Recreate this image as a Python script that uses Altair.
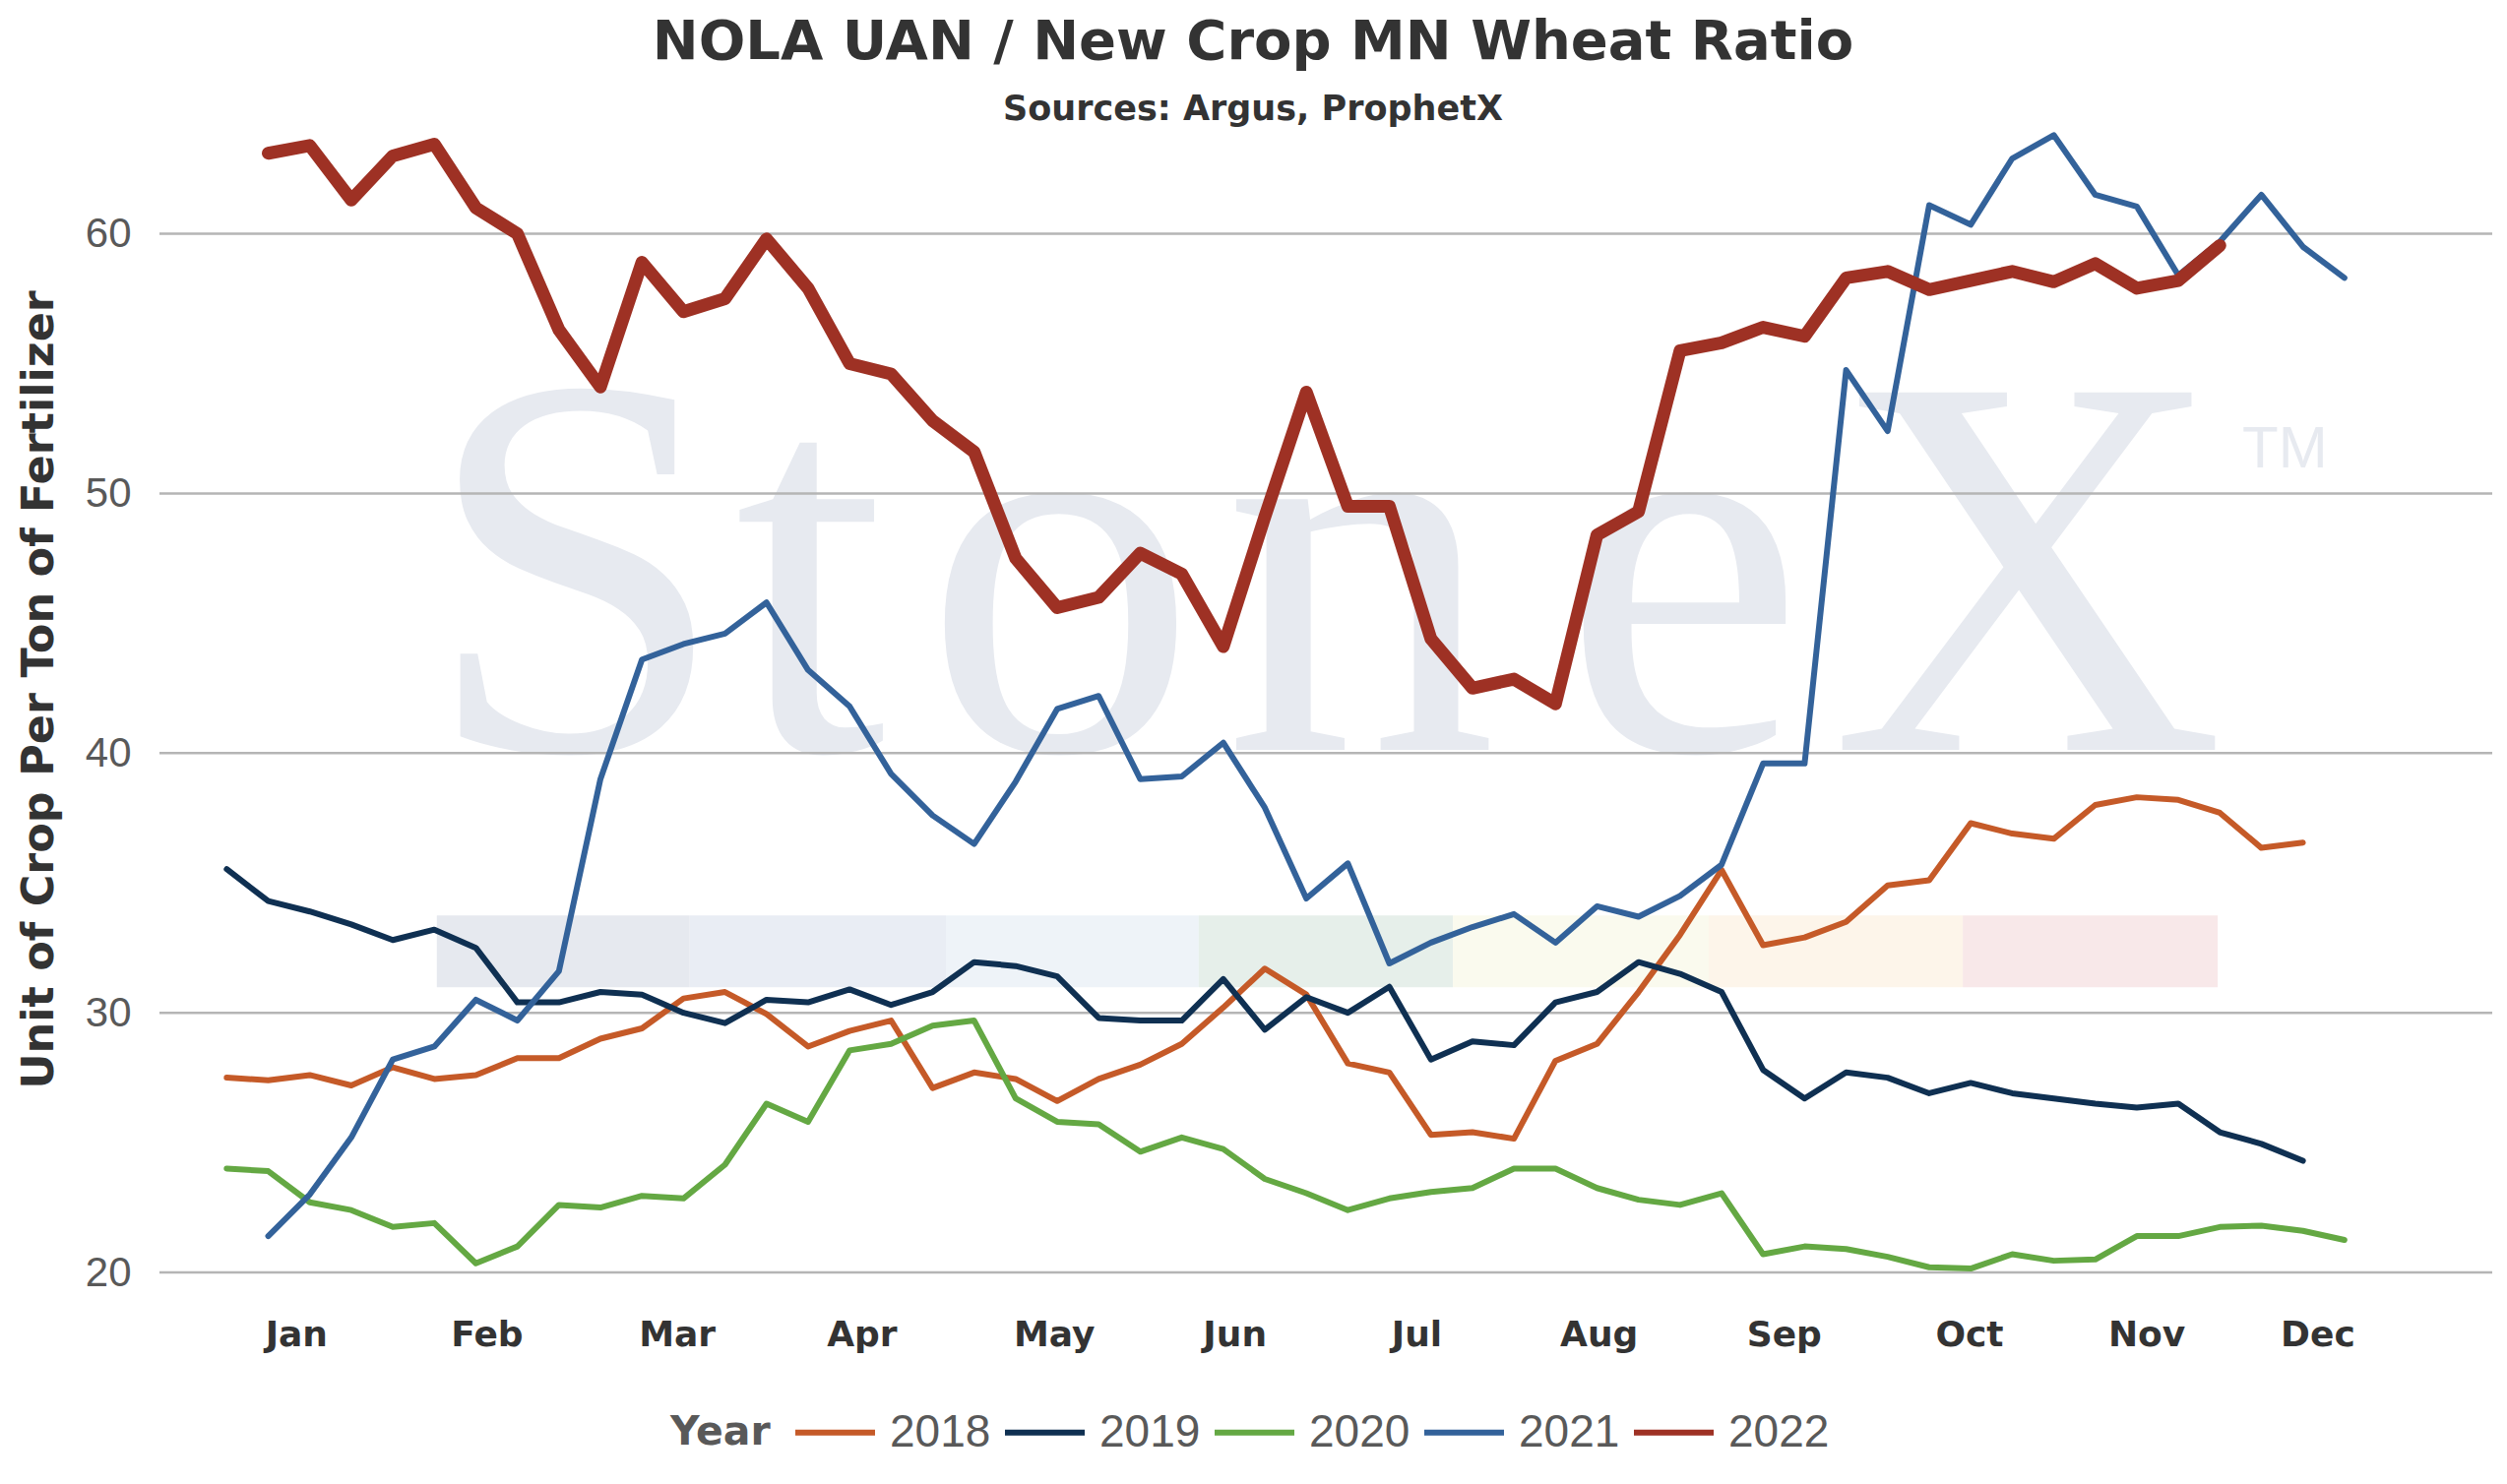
import altair as alt
import pandas as pd

# ---------------- data ----------------
years = ["2018", "2019", "2020", "2021", "2022"]
year_colors = ["#c55a28", "#0f3052", "#64a843", "#33629a", "#9e3124"]
first_week = {"2018": 1, "2019": 1, "2020": 1, "2021": 2, "2022": 2}

y2018 = [27.5, 27.4, 27.6, 27.2, 27.9, 27.45, 27.6, 28.25, 28.25, 29.0,
         29.4, 30.55, 30.8, 29.95, 28.7, 29.3, 29.7, 27.1, 27.7, 27.45,
         26.6, 27.45, 28.0, 28.8, 30.2, 31.7, 30.7, 28.05, 27.7, 25.3,
         25.4, 25.15, 28.15, 28.8, 30.8, 33.0, 35.5, 32.6, 32.9, 33.5,
         34.9, 35.1, 37.3, 36.9, 36.7, 38.0, 38.3, 38.2, 37.7, 36.35, 36.55]
y2019 = [35.53, 34.3, 33.9, 33.4, 32.8, 33.2, 32.5, 30.4, 30.4, 30.8,
         30.7, 30.0, 29.6, 30.5, 30.4, 30.9, 30.3, 30.8, 31.95, 31.8,
         31.4, 29.8, 29.7, 29.7, 31.3, 29.35, 30.6, 30.0, 31.0, 28.2,
         28.9, 28.75, 30.4, 30.8, 31.95, 31.5, 30.8, 27.8, 26.7, 27.7,
         27.5, 26.9, 27.3, 26.9, 26.7, 26.5, 26.35, 26.5, 25.4, 24.95, 24.3]
y2020 = [24.0, 23.9, 22.7, 22.4, 21.75, 21.9, 20.35, 21.0, 22.6, 22.5,
         22.95, 22.85, 24.15, 26.5, 25.8, 28.55, 28.8, 29.5, 29.7, 26.7,
         25.8, 25.7, 24.65, 25.2, 24.75, 23.6, 23.05, 22.4, 22.85, 23.1,
         23.25, 24.0, 24.0, 23.25, 22.8, 22.6, 23.05, 20.7, 21.0, 20.9,
         20.6, 20.2, 20.15, 20.7, 20.45, 20.5, 21.4, 21.4, 21.75, 21.8,
         21.6, 21.25]
y2021 = [21.4, 23.0, 25.2, 28.2, 28.7, 30.5, 29.7, 31.6, 39.0, 43.6,
         44.2, 44.6, 45.8, 43.2, 41.8, 39.2, 37.6, 36.5, 38.9, 41.7,
         42.2, 39.0, 39.1, 40.4, 37.9, 34.4, 35.75, 31.9, 32.7, 33.3,
         33.8, 32.7, 34.1, 33.7, 34.5, 35.7, 39.6, 39.6, 54.75, 52.4,
         61.1, 60.35, 62.9, 63.8, 61.5, 61.05, 58.4, 59.7, 61.5, 59.5, 58.3]
y2022 = [63.1, 63.4, 61.3, 63.0, 63.45, 61.0, 60.0, 56.3, 54.1, 58.9,
         57.0, 57.5, 59.8, 57.9, 55.0, 54.6, 52.8, 51.6, 47.5, 45.6,
         46.0, 47.7, 46.9, 44.1, 49.1, 53.9, 49.5, 49.5, 44.4, 42.5,
         42.85, 41.9, 48.4, 49.3, 55.5, 55.8, 56.4, 56.05, 58.3, 58.55,
         57.85, 58.2, 58.55, 58.15, 58.85, 57.9, 58.2, 59.55]

month_names = ["Jan", "Feb", "Mar", "Apr", "May", "Jun",
               "Jul", "Aug", "Sep", "Oct", "Nov", "Dec"]
month_pos = [2.67, 7.26, 11.84, 16.29, 20.92, 25.27,
             29.65, 34.04, 38.50, 42.96, 47.23, 51.35]
y_ticks = [20, 30, 40, 50, 60]

# watermark (StoneX logo) pieces
wm_letters = ["S", "t", "o", "n", "e", "X"]
wm_week = [9.39, 15.05, 21.08, 28.30, 36.08, 44.37]
wm_value = [40.12] * 6
tm_text = ["TM"]
tm_week = [49.54]
tm_value = [51.0]
band_start = [6.06, 12.15, 18.32, 24.41, 30.53, 36.69, 42.81]
band_end = [12.15, 18.32, 24.41, 30.53, 36.69, 42.81, 48.95]
band_low = [30.98] * 7
band_high = [33.75] * 7
band_colors = ["#e6e9ef", "#e9edf4", "#eef3f8", "#e6efea",
               "#fafaee", "#fdf5ea", "#f8e8e9"]

# ---------------- tables ----------------
series = {"2018": y2018, "2019": y2019, "2020": y2020, "2021": y2021, "2022": y2022}
rows = []
for yr, vals in series.items():
    for i, v in enumerate(vals):
        rows.append({"Year": yr, "week": first_week[yr] + i, "ratio": v})
df = pd.DataFrame(rows)

bands = pd.DataFrame({"week": band_start, "week2": band_end,
                      "ratio": band_low, "ratio2": band_high,
                      "fillc": band_colors})
wm = pd.DataFrame({"week": wm_week, "ratio": wm_value, "txt": wm_letters})
tm = pd.DataFrame({"week": tm_week, "ratio": tm_value, "txt": tm_text})
grid = pd.DataFrame({"ratio": y_ticks})

# month label expression
expr = "'%s'" % month_names[-1]
for i in range(len(month_names) - 2, -1, -1):
    mid = (month_pos[i] + month_pos[i + 1]) / 2
    expr = "datum.value < %.3f ? '%s' : (%s)" % (mid, month_names[i], expr)

x_scale = alt.Scale(domain=[-0.62, 55.56], nice=False, zero=False)
y_scale = alt.Scale(domain=[20, 64], nice=False, zero=False)

x_axis = alt.Axis(values=month_pos, labelExpr=expr, title=None, grid=False,
                  domain=False, ticks=False, tickSize=0, labelFlush=False,
                  labelOverlap=False, labelFont="DejaVu Sans", labelFontSize=36,
                  labelFontWeight="bold", labelColor="#333333",
                  labelBaseline="alphabetic", labelPadding=74)
y_title = "Unit of Crop Per Ton of Fertilizer"
y_axis = alt.Axis(values=y_ticks, grid=False, domain=False, ticks=False, tickSize=0,
                  labelFlush=False, labelFont="Liberation Sans", labelFontSize=42,
                  labelColor="#595959", labelPadding=29,
                  title=y_title, titleFont="DejaVu Sans", titleFontSize=44.5,
                  titleFontWeight="bold", titleColor="#333333",
                  titleX=-108.7, titleY=568.4, titleBaseline="alphabetic")

X = alt.X("week:Q", scale=x_scale, axis=x_axis)
Y = alt.Y("ratio:Q", scale=y_scale, axis=y_axis)

legend = alt.Legend(orient="none", legendX=519, legendY=1280, direction="horizontal",
                    title="Year", titleOrient="left", titleFont="DejaVu Sans",
                    titleFontSize=41, titleFontWeight="bold", titleColor="#595959",
                    titlePadding=22, titleAnchor="middle", titleBaseline="line-top",
                    titleLineHeight=23,
                    labelFont="Liberation Sans", labelFontSize=46, labelColor="#595959",
                    labelOffset=12, columnPadding=2, symbolType="stroke",
                    symbolSize=6561, symbolStrokeWidth=6, padding=0)
color = alt.Color("Year:N", scale=alt.Scale(domain=years, range=year_colors),
                  legend=legend)

band_layer = alt.Chart(bands).mark_rect().encode(
    x=X, x2="week2:Q", y=Y, y2="ratio2:Q",
    fill=alt.Fill("fillc:N", scale=None))

wm_layer = alt.Chart(wm).mark_text(font="Liberation Serif", fontSize=555,
                                   color="#e7eaf0", align="center",
                                   baseline="alphabetic").encode(
    x=X, y=Y, text="txt:N")

tm_layer = alt.Chart(tm).mark_text(font="Liberation Sans", fontSize=60,
                                   color="#e7eaf0", align="left",
                                   baseline="alphabetic").encode(
    x=X, y=Y, text="txt:N")

grid_layer = alt.Chart(grid).mark_rule(color="#b5b5b5", strokeWidth=2.5).encode(y=Y)

lines = alt.Chart(df[df["Year"] != "2022"]).mark_line(
    strokeWidth=6, strokeCap="round", strokeJoin="round").encode(
    x=X, y=Y, color=color)

line22 = alt.Chart(df[df["Year"] == "2022"]).mark_line(
    strokeWidth=13, strokeCap="round", strokeJoin="round").encode(
    x=X, y=Y, color=color)

chart = alt.layer(band_layer, wm_layer, tm_layer, grid_layer, lines, line22).properties(
    width=2370, height=1161,
    padding={"left": 154, "top": 124, "right": 7, "bottom": 207},
    autosize=alt.AutoSizeParams(type="none"),
    background="white",
    title=alt.TitleParams(
        text="NOLA UAN / New Crop MN Wheat Ratio",
        subtitle="Sources: Argus, ProphetX",
        font="DejaVu Sans", fontSize=56, fontWeight="bold", color="#333333",
        subtitleFont="DejaVu Sans", subtitleFontSize=35, subtitleFontWeight="bold",
        subtitleColor="#333333", subtitlePadding=22, offset=2,
        anchor="middle", frame="group", dx=-74),
).configure_view(stroke=None)

chart.save("out.html", embed_options={"renderer": "svg", "actions": False})
